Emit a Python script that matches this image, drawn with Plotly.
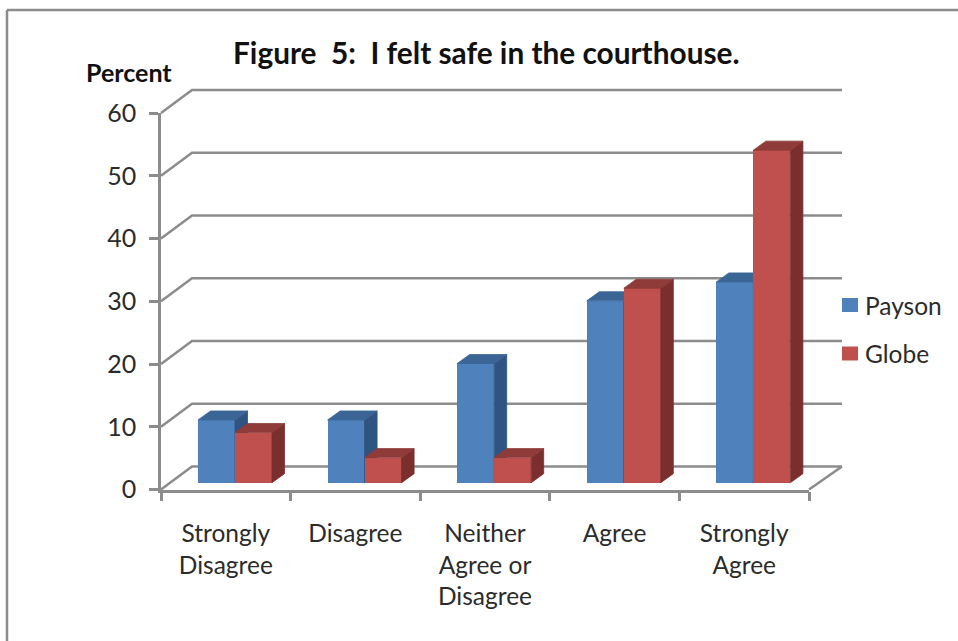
import plotly.graph_objects as go

categories = ["Strongly<br>Disagree", "Disagree", "Neither<br>Agree or<br>Disagree", "Agree", "Strongly<br>Agree"]
payson = [10, 10, 19, 29, 32]
globe = [8, 4, 4, 31, 53]
y_ticks = [0, 10, 20, 30, 40, 50, 60]
boundaries = [-0.5, 0.5, 1.5, 2.5, 3.5, 4.5]

W, H = 958, 641
FONT = "Lato, Carlito, Calibri, sans-serif"
GRAY = "#8c8c8c"
TXT = "#2b2b2b"

# pixel geometry of the pseudo-3D frame
L, R, B, T = 161, 809, 489.5, 113
px_x = (R - L) / 5
px_y = (B - T) / 60
WALL_DX_PX, WALL_DY_PX, WALL_RIGHT_PX = 31, 23, 33
wall_dx, wall_dy = WALL_DX_PX / px_x, WALL_DY_PX / px_y
wall_right = 4.5 + WALL_RIGHT_PX / px_x
bar_dx, bar_dy = 12.5 / px_x, 9 / px_y
bar_base = 6.8 / px_y
bar_w = 37 / px_x
off_p, off_g = (198 - 225.8) / px_x, (235 - 225.8) / px_x
PAD = 5  # px of slack so that wide lines are not clipped at the edge of the drawing axes

fig = go.Figure()

# wall and floor lines
wx, wy = [], []
for v in y_ticks:
    wx += [-0.5, -0.5 + wall_dx, wall_right, None]
    wy += [v, v + wall_dy, v + wall_dy, None]
wx += [4.5, wall_right]
wy += [0, wall_dy]
fig.add_trace(go.Scatter(x=wx, y=wy, mode="lines", line=dict(color=GRAY, width=2.5),
                         hoverinfo="skip", showlegend=False))


def add_series(name, vals, off, front, top, side, ax):
    xa, ya = f"x{ax}", f"y{ax}"
    fig.add_trace(go.Bar(x=list(range(5)), y=vals, base=bar_base, offset=off, width=bar_w, name=name,
                         marker=dict(color=front, line=dict(width=0)), xaxis=xa, yaxis=ya, showlegend=False))
    sx, sy, tx, ty = [], [], [], []
    for i, v in enumerate(vals):
        xl, xr = i + off, i + off + bar_w
        t = bar_base + v
        sx += [xr, xr + bar_dx, xr + bar_dx, xr, xr, None]
        sy += [bar_base, bar_base + bar_dy, t + bar_dy, t, bar_base, None]
        tx += [xl, xl + bar_dx, xr + bar_dx, xr, xl, None]
        ty += [t, t + bar_dy, t + bar_dy, t, t, None]
    for px, py, c in ((sx, sy, side), (tx, ty, top)):
        fig.add_trace(go.Scatter(x=px, y=py, mode="lines", line=dict(color=c, width=0.8), fill="toself",
                                 fillcolor=c, xaxis=xa, yaxis=ya, hoverinfo="skip", showlegend=False))


add_series("Payson", payson, off_p, "#4F81BD", "#3B6595", "#2F5482", 2)
add_series("Globe", globe, off_g, "#C0504D", "#8E3B39", "#7A2F2E", 3)

# the visible axes carry the tick marks and labels
fig.add_trace(go.Scatter(x=list(range(5)), y=payson, mode="none", xaxis="x4", yaxis="y4",
                         hoverinfo="skip", showlegend=False))

# hidden drawing axes: same scale, but reaching over the back wall
draw_x = dict(domain=[(L - PAD) / W, (R + WALL_RIGHT_PX + PAD) / W],
              range=[-0.5 - PAD / px_x, wall_right + PAD / px_x], visible=False, fixedrange=True)
draw_y = dict(domain=[1 - (B + PAD) / H, 1 - (T - WALL_DY_PX - PAD) / H],
              range=[-PAD / px_y, 60 + wall_dy + PAD / px_y], visible=False, fixedrange=True)

shapes = [
    dict(type="line", xref="paper", yref="paper", x0=7 / W, x1=7 / W, y0=0, y1=1 - 10 / H,
         line=dict(color=GRAY, width=2.5)),
    dict(type="line", xref="paper", yref="paper", x0=7 / W, x1=1, y0=1 - 10 / H, y1=1 - 10 / H,
         line=dict(color=GRAY, width=2.5)),
]
annotations = []
for name, col, yc in (("Payson", "#4F81BD", 305), ("Globe", "#C0504D", 353.5)):
    shapes.append(dict(type="rect", xref="paper", yref="paper", x0=842 / W, x1=858 / W,
                       y0=1 - (yc + 7) / H, y1=1 - (yc - 7) / H, fillcolor=col, line=dict(width=0)))
    annotations.append(dict(text=name, xref="paper", yref="paper", x=863 / W, y=1 - yc / H, xanchor="left",
                            yanchor="middle", showarrow=False, font=dict(family=FONT, size=24.5, color=TXT)))
annotations.append(dict(text="Percent", xref="paper", yref="paper", x=128.5 / W, y=1 - 72 / H, xanchor="center",
                        yanchor="middle", showarrow=False,
                        font=dict(family=FONT, size=25, color="#111111", weight="bold")))
annotations.append(dict(text="Figure  5:  I felt safe in the courthouse.", xref="paper", yref="paper", x=486 / W,
                        y=1 - 53 / H, xanchor="center", yanchor="middle", showarrow=False,
                        font=dict(family=FONT, size=29.8, color="#111111", weight="bold")))

fig.update_layout(
    width=W, height=H, autosize=False, margin=dict(l=0, r=0, t=0, b=0),
    paper_bgcolor="white", plot_bgcolor="rgba(0,0,0,0)", showlegend=False, bargap=0,
    shapes=shapes, annotations=annotations, font=dict(family=FONT),
    xaxis=dict(**draw_x), yaxis=dict(**draw_y),
    xaxis2=dict(anchor="y2", **draw_x), yaxis2=dict(anchor="x2", **draw_y),
    xaxis3=dict(anchor="y3", **draw_x), yaxis3=dict(anchor="x3", **draw_y),
    xaxis4=dict(anchor="y4", domain=[L / W, R / W], range=[-0.5, 4.5], tickmode="array",
                tickvals=list(range(5)), ticktext=categories, automargin=False, fixedrange=True,
                ticks="", showgrid=False, zeroline=False, showline=True, linecolor=GRAY, linewidth=2.5,
                tickfont=dict(family=FONT, size=24.5, color=TXT), ticklabelstandoff=20,
                minor=dict(tickmode="array", tickvals=boundaries, ticks="outside",
                           ticklen=9, tickwidth=2.5, tickcolor=GRAY, showgrid=False)),
    yaxis4=dict(anchor="x4", domain=[1 - B / H, 1 - T / H], range=[0, 60], tickmode="array", tickvals=y_ticks,
                ticks="outside", ticklen=9, automargin=False, fixedrange=True,
                tickwidth=2.5, tickcolor=GRAY, showgrid=False, zeroline=False, showline=True, linecolor=GRAY,
                linewidth=2.5, tickfont=dict(family=FONT, size=25, color=TXT), ticklabelstandoff=8),
)

fig.write_html("out.html", config={"displayModeBar": False}, post_script="document.body.style.margin='0';")
